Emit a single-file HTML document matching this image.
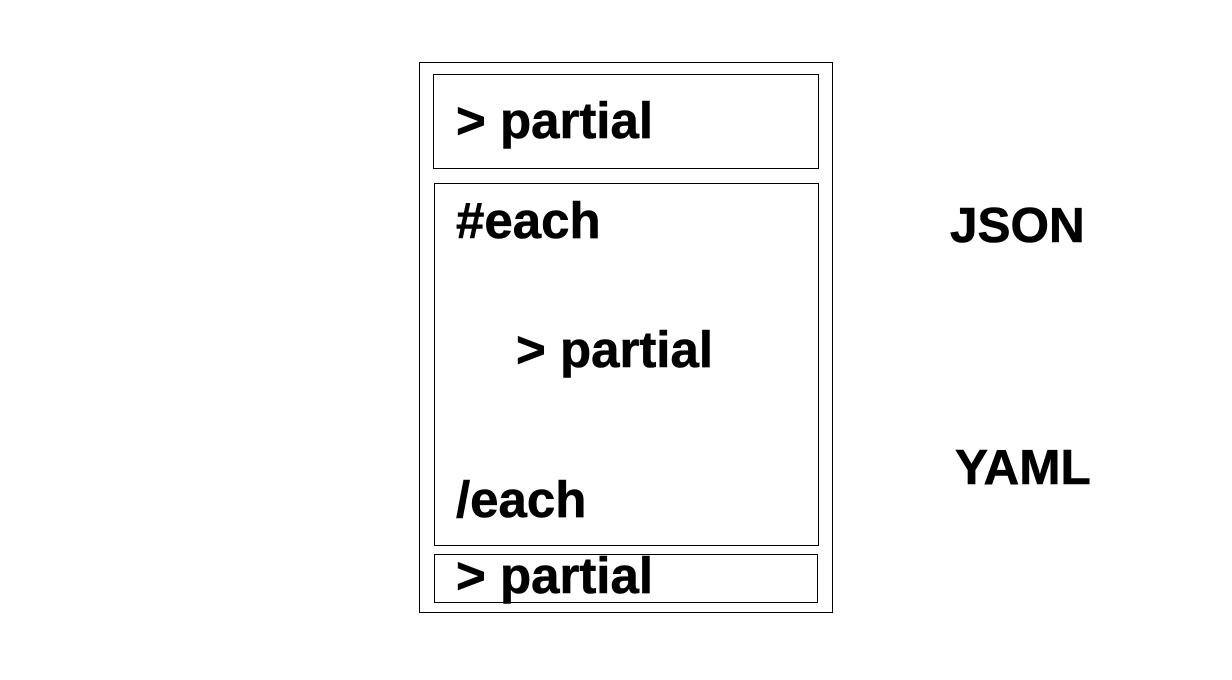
<!DOCTYPE html>
<html><head><style>body{margin:0;background:#fff}</style></head>
<body>
<svg width="1232" height="680" xmlns="http://www.w3.org/2000/svg" style="display:block">
<rect width="1232" height="680" fill="#fff"/>
<g fill="none" stroke="#000" stroke-width="1">
<rect x="419.5" y="62.5" width="413" height="550"/>
<rect x="433.5" y="74.5" width="385" height="94"/>
<rect x="434.5" y="183.5" width="384" height="362"/>
<rect x="434.5" y="554.5" width="383" height="48"/>
</g>
<g font-family="Liberation Sans, sans-serif" font-weight="bold" font-size="51" fill="#000" stroke="#000" stroke-width="0.6">
<text x="456" y="138">&gt; partial</text>
<text x="456" y="238">#each</text>
<text x="516" y="367">&gt; partial</text>
<text x="456" y="517">/each</text>
<text x="456" y="593">&gt; partial</text>
<text x="950" y="242" font-size="49.5">JSON</text>
<text x="955" y="484" font-size="49.5">YAML</text>
</g>
</svg>
</body></html>
